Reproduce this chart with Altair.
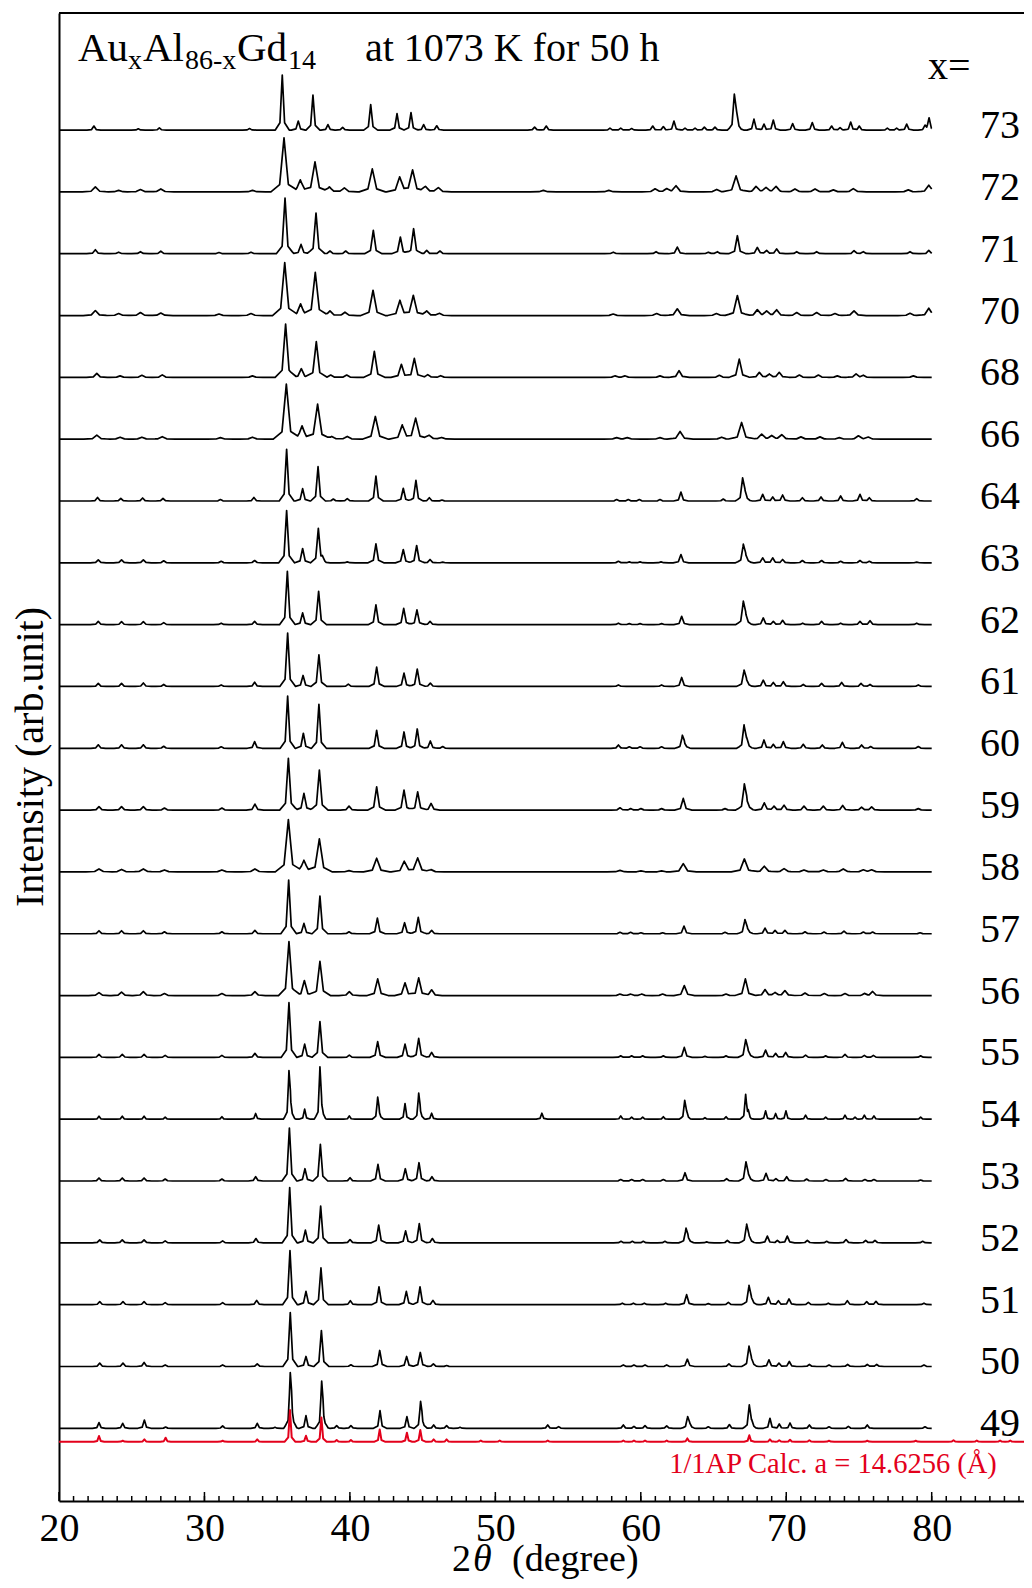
import altair as alt
import pandas as pd

# ---------------- data ----------------
SAMPLES = ["49", "50", "51", "52", "53", "54", "55", "56", "57", "58", "59",
           "60", "61", "62", "63", "64", "66", "68", "70", "71", "72", "73"]
# peak base half-width (degrees) of each pattern
PEAK_WIDTH = [0.15, 0.17, 0.17, 0.17, 0.17, 0.13, 0.18, 0.24, 0.18, 0.30, 0.20,
              0.17, 0.18, 0.18, 0.18, 0.17, 0.30, 0.24, 0.28, 0.20, 0.30, 0.16]
CALC_WIDTH = 0.12

# (2theta, peak height) for every pattern
P73 = [(22.4, 4), (25.45, 1.3), (26.9, 2.3), (33.1, 1.5), (35.35, 55), (36.45, 9), (37.46, 35), (38.49, 5.5),
       (39.5, 2.7), (41.43, 25.5), (43.24, 16.5), (44.2, 17.5), (45.07, 5.5), (45.97, 4.3), (52.7, 3), (53.5, 4),
       (57.88, 2), (58.62, 2), (59.37, 1.5), (60.82, 4), (61.55, 3.5), (62.28, 9), (63.04, 2), (63.73, 2),
       (64.37, 3), (65.1, 3), (66.43, 34), (66.59, 14), (67.78, 11), (68.47, 6), (69.11, 10), (70.44, 6.5),
       (71.79, 7.5), (73.12, 4), (73.7, 2.5), (74.43, 8), (75.02, 4), (76.95, 2), (77.59, 2), (78.28, 6),
       (79.54, 4), (79.82, 12)]
P72 = [(22.5, 5), (24.1, 1.5), (25.6, 2.3), (27.0, 3), (33.3, 1.5), (35.47, 54), (36.59, 12), (37.6, 30),
       (38.59, 5), (39.62, 4), (41.54, 23), (43.42, 15), (44.31, 22), (45.19, 5.5), (46.08, 4.3), (53.3, 1.5),
       (57.8, 1.5), (60.98, 3), (61.78, 3), (62.42, 6), (65.22, 2.5), (66.55, 16), (67.92, 5.3), (68.61, 4),
       (69.3, 5.3), (70.6, 3), (71.98, 3), (73.24, 2), (74.61, 3.3), (78.39, 2), (79.8, 6.7)]
P71 = [(22.5, 4), (24.1, 1.5), (25.6, 2), (27.0, 2.5), (31.0, 1.2), (33.2, 1.5), (35.54, 55.7), (36.64, 9.3),
       (37.67, 40.7), (38.63, 2.7), (39.71, 2.7), (41.61, 23.3), (43.47, 16.7), (44.38, 25), (45.28, 3.3),
       (46.19, 2.7), (58.11, 1.5), (61.05, 2), (62.51, 6.7), (64.64, 1.5), (65.26, 2), (66.64, 18), (68.01, 6.3),
       (68.65, 3.3), (69.34, 4.7), (70.72, 2), (72.09, 2), (74.66, 3), (75.3, 2), (78.51, 2), (79.8, 3.3)]
P70 = [(22.5, 5), (24.1, 2), (25.6, 3), (27.0, 2.5), (31.0, 1.5), (33.2, 2), (35.52, 53), (36.61, 11.7),
       (37.62, 43.3), (38.63, 4.7), (39.66, 3.3), (41.59, 25.3), (43.44, 15.3), (44.36, 20.3), (45.28, 4.7),
       (46.15, 2.3), (58.1, 1.5), (61.09, 2), (62.51, 6.7), (65.2, 2), (66.64, 20), (68.01, 5.7), (68.65, 4.3),
       (69.34, 5.7), (70.72, 3), (72.09, 3), (73.35, 2), (74.66, 4.7), (78.51, 2.3), (79.8, 7.3)]
P68 = [(22.6, 4), (24.2, 1.5), (25.7, 2), (27.1, 2.5), (33.3, 1.5), (35.58, 53.3), (36.66, 8.7), (37.69, 35.7),
       (38.68, 2.3), (39.78, 2.3), (41.68, 26), (43.54, 13), (44.43, 19), (45.35, 2.7), (46.24, 1.7), (58.23, 1.5),
       (58.91, 1.5), (61.32, 1.5), (62.63, 6.7), (65.4, 2), (66.77, 18.3), (68.15, 5), (68.84, 3.3), (69.52, 5),
       (70.9, 2.3), (72.21, 2.3), (73.51, 1.5), (74.8, 3.3), (75.3, 2), (78.74, 1.5)]
P66 = [(22.6, 4), (24.2, 2), (25.7, 2), (27.1, 2.5), (31.1, 1.5), (33.3, 2), (35.63, 55), (36.71, 13.3),
       (37.78, 35), (38.75, 2.7), (39.82, 2.7), (41.75, 22.7), (43.6, 14.3), (44.52, 21), (45.44, 4), (46.31, 1.7),
       (58.34, 1.5), (59.07, 1.5), (61.32, 1.5), (62.7, 7.7), (65.56, 2), (66.93, 16.7), (68.31, 5), (69.0, 3.3),
       (69.69, 4.3), (71.01, 2.3), (72.32, 2.3), (73.65, 1.5), (74.96, 3.3), (75.64, 2)]
P64 = [(22.65, 3.5), (24.25, 2.5), (25.75, 3), (27.15, 2.5), (31.1, 1.5), (33.4, 3.5), (35.65, 51.7),
       (36.75, 12.3), (37.81, 34.3), (38.86, 2), (39.82, 2.3), (41.79, 25), (43.67, 12.7), (44.54, 20.7),
       (45.46, 3.3), (46.33, 1), (58.34, 1.5), (59.14, 1.5), (59.9, 1.5), (61.32, 1.5), (62.76, 9), (65.67, 2),
       (67.0, 21.7), (67.16, 8), (68.38, 6.7), (69.07, 4), (69.75, 6), (71.11, 3.3), (72.39, 4), (73.74, 5),
       (75.07, 6.7), (75.71, 3.3), (78.97, 2.3)]
P63 = [(22.7, 3), (24.3, 3), (25.8, 3), (27.2, 2), (31.15, 1.5), (33.45, 2.3), (35.65, 52.3), (36.75, 14.3),
       (37.83, 34), (38.1, 4), (39.82, 1), (41.79, 19), (43.67, 13.3), (44.59, 17.3), (45.51, 3.3), (46.38, 0.7),
       (58.46, 1.5), (59.21, 1), (59.95, 1), (61.39, 1), (62.76, 8.3), (67.05, 17.3), (67.21, 6), (68.38, 5),
       (69.07, 5), (69.75, 3.3), (71.11, 2.3), (72.43, 2.3), (73.74, 1.5), (75.07, 2.3), (75.71, 1.5), (78.97, 0.7)]
P62 = [(22.7, 3.3), (24.3, 3), (25.8, 3), (27.2, 2), (31.15, 1.5), (33.45, 3.3), (35.7, 53.3), (36.75, 11.7),
       (37.85, 33.3), (41.79, 19.7), (43.7, 16.3), (44.61, 14.7), (45.51, 3.3), (58.46, 1.5), (59.21, 1),
       (59.95, 1), (61.43, 1), (62.81, 8.3), (67.05, 21.7), (67.21, 8), (68.42, 6.7), (69.11, 3.3), (69.75, 4.3),
       (71.13, 1.5), (72.43, 3.3), (73.74, 1.5), (75.07, 3.3), (75.76, 4), (78.97, 1.5)]
P61 = [(22.7, 3), (24.3, 3), (25.8, 3.5), (27.2, 2), (31.15, 1.5), (33.45, 4.3), (35.72, 53.3), (36.78, 11),
       (37.87, 31.7), (39.89, 2.3), (41.84, 19.3), (43.72, 13.3), (44.63, 17.3), (45.53, 3.3), (58.46, 1.5),
       (61.43, 1.5), (62.81, 9), (67.1, 15.3), (67.26, 5), (68.42, 6.3), (69.11, 4), (69.8, 4.7), (71.17, 2),
       (72.43, 3), (73.81, 4), (75.14, 3), (75.76, 2), (79.08, 1.5)]
P60 = [(22.7, 3.5), (24.3, 3.5), (25.8, 3.5), (27.2, 2), (31.15, 1.5), (33.45, 6.7), (35.72, 52.3), (36.8, 15),
       (37.87, 44), (41.84, 18), (43.72, 16.3), (44.63, 19.3), (45.53, 7.3), (46.38, 1.7), (58.46, 3.3),
       (59.21, 1.5), (59.95, 1.5), (61.43, 1.5), (62.86, 11.7), (62.99, 4), (67.1, 22.3), (67.28, 8), (68.47, 8.3),
       (69.11, 4), (69.8, 6.7), (71.17, 4), (72.48, 3.3), (73.86, 6), (75.18, 3.3), (75.8, 1.7), (79.08, 1.7)]
P59 = [(22.75, 3.5), (24.3, 3.5), (25.8, 3.5), (27.25, 2), (31.2, 2), (33.47, 6), (35.77, 51.7), (36.84, 16.7),
       (37.9, 40), (39.94, 4), (41.84, 23.3), (43.72, 20), (44.66, 18.3), (45.58, 6.7), (58.57, 2.3), (59.3, 1.5),
       (60.01, 1.5), (61.43, 1.5), (62.92, 11.7), (65.79, 1.5), (67.12, 24), (67.28, 7), (68.49, 7.3), (69.16, 4),
       (69.85, 5), (71.22, 4), (72.55, 4), (73.88, 4.7), (75.18, 3), (75.87, 3.3), (79.08, 1.5)]
P58 = [(22.75, 3), (24.3, 2.5), (25.8, 3), (27.25, 2), (31.2, 2), (33.47, 3), (35.77, 52.3), (36.84, 11.7),
       (37.9, 33), (39.94, 1.3), (41.84, 13.7), (43.74, 10.7), (44.66, 14), (45.58, 2.3), (58.57, 1.5), (60.01, 1),
       (61.43, 1), (62.92, 8.3), (67.12, 13), (68.49, 5.7), (69.85, 3.3), (71.22, 2), (72.55, 2), (73.92, 3),
       (75.3, 2), (75.87, 2)]
P57 = [(22.75, 3), (24.3, 3), (25.8, 3), (27.25, 2), (31.2, 2), (33.47, 3.3), (35.79, 53.7), (36.84, 10.3),
       (37.94, 37.7), (39.94, 2), (41.89, 15.7), (43.76, 11), (44.7, 16.3), (45.62, 3.3), (58.57, 1.5), (59.3, 1.5),
       (60.01, 1), (61.5, 1), (62.97, 7.7), (65.79, 1.5), (67.16, 13.3), (67.32, 4), (68.54, 5.7), (69.23, 3.3),
       (69.91, 3.3), (71.29, 2), (72.6, 1.7), (73.97, 2.7), (75.3, 1.7), (75.94, 1.7), (79.2, 1)]
P56 = [(22.75, 3), (24.3, 3.5), (25.8, 4), (27.25, 2), (31.2, 2), (33.47, 4), (35.81, 54), (36.87, 15),
       (37.94, 34.3), (39.96, 4), (41.91, 16.7), (43.79, 12.7), (44.73, 17.7), (45.62, 5.7), (58.57, 1.5),
       (59.3, 1.5), (60.06, 1.5), (61.5, 1.5), (62.99, 10), (65.86, 1.5), (67.19, 16.7), (68.54, 6), (69.23, 3),
       (69.91, 5), (71.29, 2.5), (72.62, 2), (74.04, 2), (75.37, 2), (75.94, 4)]
P55 = [(22.75, 3), (24.35, 3), (25.85, 3), (27.3, 2), (31.2, 2), (33.47, 4), (35.81, 54.7), (36.89, 13.3),
       (37.94, 35.7), (39.96, 2.3), (41.91, 15.7), (43.79, 13.3), (44.73, 19), (45.62, 5), (58.62, 1.5),
       (59.37, 1.5), (60.13, 1.5), (61.55, 1.5), (62.99, 10), (64.41, 1), (65.86, 1.5), (67.21, 16.7), (67.37, 5),
       (68.58, 7.3), (69.27, 4), (69.96, 5), (71.33, 2.3), (72.71, 1.5), (74.04, 3), (75.37, 2), (75.99, 2),
       (79.24, 1.5)]
P54 = [(22.75, 3), (24.35, 3), (25.85, 3), (27.3, 2), (31.2, 2.5), (33.52, 5.7), (35.81, 44), (35.91, 14),
       (36.89, 10), (37.94, 50), (38.05, 9), (39.96, 3.3), (41.91, 20), (42.0, 5), (43.79, 15.7), (44.73, 24),
       (44.83, 6), (45.62, 6), (53.2, 6), (58.62, 3.3), (59.37, 2), (60.13, 2), (61.55, 2.5), (63.02, 18),
       (63.15, 6), (64.41, 1.5), (65.86, 2.5), (67.21, 24), (67.39, 7), (68.58, 8.3), (69.27, 5.7), (69.98, 8.3),
       (71.33, 4), (72.71, 2), (74.04, 4), (74.73, 2), (75.37, 4), (76.03, 3.3), (79.24, 2)]
P53 = [(22.75, 3), (24.35, 3), (25.85, 3), (27.3, 2), (31.2, 2), (33.52, 4.3), (35.84, 53), (36.91, 12.3),
       (37.97, 36.7), (40.01, 3.3), (41.93, 16.7), (43.81, 12.3), (44.75, 18.3), (45.64, 4.3), (58.62, 1.5),
       (59.37, 1.5), (60.13, 1.5), (61.55, 1.5), (63.04, 8.3), (65.9, 2.3), (67.23, 18.3), (67.39, 5),
       (68.61, 7.7), (69.29, 2.5), (70.03, 4.3), (71.4, 2), (72.73, 1.5), (74.08, 2.7), (75.41, 1.5),
       (76.03, 1.5), (79.24, 1)]
P52 = [(22.8, 3), (24.35, 3), (25.85, 3), (27.3, 2), (31.25, 2), (33.54, 4.3), (35.86, 55.3), (36.94, 12.7),
       (37.99, 36.7), (40.01, 3.3), (41.98, 17.7), (43.83, 12), (44.77, 19.3), (45.67, 4.3), (58.64, 1.5),
       (59.42, 1.5), (60.17, 1.5), (61.66, 1.5), (63.11, 13.3), (63.24, 4), (64.53, 1), (65.95, 2.5),
       (67.28, 17.7), (67.44, 5), (68.7, 6.7), (69.39, 2.5), (70.07, 6.7), (71.45, 2.5), (72.78, 1.5),
       (74.11, 3.3), (75.46, 2.5), (76.1, 2.5), (79.38, 1.5)]
P51 = [(22.8, 3), (24.4, 3), (25.85, 3), (27.3, 2), (31.25, 2), (33.59, 4.3), (35.88, 54), (36.98, 13.3),
       (38.01, 36.7), (40.03, 4), (42.0, 17.7), (43.88, 13.3), (44.82, 17.7), (45.71, 4.3), (58.73, 1.5),
       (59.49, 1.5), (60.24, 1.5), (61.71, 1.5), (63.15, 10), (64.64, 1), (66.02, 2.3), (67.44, 18.3), (67.6, 5),
       (68.77, 7.3), (69.46, 4), (70.19, 5.7), (71.52, 2.3), (72.89, 1.5), (74.2, 4), (75.53, 3), (76.17, 3.3),
       (79.47, 1.5)]
P50 = [(22.8, 3.3), (24.4, 3.3), (25.85, 4), (27.3, 1.5), (31.25, 1.5), (33.63, 2.7), (35.9, 54), (36.98, 10),
       (38.04, 36), (40.07, 1.7), (42.05, 16), (43.9, 10), (44.84, 14), (45.74, 2.7), (46.65, 1), (58.8, 1.5),
       (59.53, 1.5), (60.29, 1.5), (61.78, 1.5), (63.2, 7.3), (66.06, 2.5), (67.44, 19.3), (67.6, 6),
       (68.81, 6.7), (69.5, 3.3), (70.21, 5), (71.59, 2), (72.94, 1.5), (74.22, 2), (75.57, 2), (76.22, 2),
       (79.47, 1.5)]
P49 = [(22.75, 5.7), (24.38, 5), (25.87, 8.3), (27.33, 1.3), (31.25, 2.3), (33.63, 5), (34.85, 1), (35.9, 49),
       (35.99, 14), (36.98, 12.7), (38.06, 43), (38.15, 9), (39.09, 2.7), (40.07, 2.7), (42.07, 17.7),
       (43.92, 11.7), (44.86, 24), (44.95, 6), (45.76, 3.3), (46.65, 2.7), (47.57, 1), (53.6, 3.3), (54.35, 1.7),
       (58.8, 3.3), (59.53, 2), (60.29, 2.7), (61.78, 2.5), (63.22, 11), (63.36, 4), (64.64, 1.5), (66.09, 3.7),
       (67.46, 22.7), (67.62, 6), (68.88, 10), (69.52, 4.3), (70.26, 5.3), (71.59, 3.3), (72.94, 1.5),
       (74.27, 2), (75.57, 3.3), (79.54, 1.5)]
PCALC = [(22.75, 5.7), (24.38, 1), (25.87, 2.3), (27.33, 4), (31.25, 1), (33.63, 2.3), (35.88, 31.7), (36.98, 6),
         (38.04, 24.3), (39.09, 1.7), (40.07, 1.7), (42.05, 12.3), (43.92, 9), (44.84, 11.7), (45.76, 2.3),
         (46.65, 2.3), (49.0, 1.2), (50.3, 1.2), (53.6, 1.2), (58.8, 1.2), (59.53, 1.2), (60.29, 1.2), (61.78, 1.2),
         (63.2, 3.3), (67.46, 6.5), (68.88, 2.3), (69.52, 1.5), (70.26, 2), (71.59, 1.5), (72.94, 1), (75.57, 1),
         (78.9, 1), (81.5, 1.5), (83.1, 1.2), (84.7, 1.2), (85.4, 1.2)]

PATTERNS = [P49, P50, P51, P52, P53, P54, P55, P56, P57, P58, P59,
            P60, P61, P62, P63, P64, P66, P68, P70, P71, P72, P73]

X_TICK_LABELS = [20, 30, 40, 50, 60, 70, 80]
TITLE_FORMULA = [("Au", False), ("x", True), ("Al", False), ("86-x", True), ("Gd", False), ("14", True)]
TITLE_COND = "at 1073 K for 50 h"
CALC_LABEL = "1/1AP Calc. a = 14.6256 (\u00c5)"

# ---------------- layout ----------------
W, H = 965, 1488
X_MIN, X_MAX = 20.0, 20.0 + W / 14.545
BASE0, STEP, CALC_BASE = 72.7, 61.82, 59.3
FONT = "Liberation Serif"


def profile(peaks, w, lo, hi):
    """piecewise-linear peak outline through the read peak apexes"""
    bps = {lo, hi}
    for p, _ in peaks:
        for d in (-3 * w, -w, 0.0, w, 3 * w):
            if lo <= p + d <= hi:
                bps.add(round(p + d, 5))
    xs = sorted(bps)
    ys = []
    for x in xs:
        s = 0.0
        for p, h in peaks:
            s += 0.8 * h * max(0.0, 1 - abs(x - p) / w) + 0.2 * h * max(0.0, 1 - abs(x - p) / (3 * w))
        ys.append(s)
    return xs, ys


rows = []
for i, (name, peaks) in enumerate(zip(SAMPLES, PATTERNS)):
    xs, ys = profile(peaks, PEAK_WIDTH[i], 20.0, 80.0)
    off = BASE0 + i * STEP
    rows += [{"s": name, "x": x, "y": off + y} for x, y in zip(xs, ys)]
df = pd.DataFrame(rows)

cx, cy = profile(PCALC, CALC_WIDTH, X_MIN, X_MAX)
df_calc = pd.DataFrame({"x": cx, "y": [CALC_BASE + v for v in cy]})

df_lab = pd.DataFrame({"lab": SAMPLES, "y": [BASE0 + i * STEP + 4 for i in range(len(SAMPLES))]})

xs_ = alt.Scale(domain=[X_MIN, X_MAX], nice=False, zero=False)
ys_ = alt.Scale(domain=[0, H], nice=False, zero=False)

x_axis = alt.Axis(values=X_TICK_LABELS, ticks=False, grid=False, title=None, labelFont=FONT,
                  labelFontSize=40, labelColor="black", labelPadding=7, labelFlush=False,
                  domainColor="black", domainWidth=2)
y_axis = alt.Axis(labels=False, ticks=False, grid=False, title=None, domainColor="black", domainWidth=2)

lines = alt.Chart(df).mark_line(color="black", strokeWidth=1.7, strokeJoin="round").encode(
    x=alt.X("x:Q", scale=xs_, axis=x_axis),
    y=alt.Y("y:Q", scale=ys_, axis=y_axis),
    detail="s:N",
)
calc = alt.Chart(df_calc).mark_line(color="#e3001b", strokeWidth=2, strokeJoin="round").encode(
    x=alt.X("x:Q", scale=xs_), y=alt.Y("y:Q", scale=ys_))

labels = alt.Chart(df_lab).mark_text(font=FONT, fontSize=40, align="left", baseline="middle",
                                     color="black").encode(
    x=alt.value(921), y=alt.Y("y:Q", scale=ys_), text="lab:N")

minor = alt.Chart(pd.DataFrame({"x": list(range(21, 87))})).mark_rule(color="black", strokeWidth=1.5).encode(
    x=alt.X("x:Q", scale=xs_), y=alt.value(H), y2=alt.value(H - 5))
major = alt.Chart(pd.DataFrame({"x": X_TICK_LABELS})).mark_rule(color="black", strokeWidth=1.5).encode(
    x=alt.X("x:Q", scale=xs_), y=alt.value(H), y2=alt.value(H - 9))
top = alt.Chart(pd.DataFrame({"a": [0]})).mark_rule(color="black", strokeWidth=2).encode(
    x=alt.value(0), x2=alt.value(W), y=alt.value(0))


def txt(s, x, y, size=40, align="left", italic=False, color="black", angle=0, baseline="alphabetic"):
    kw = dict(font=FONT, fontSize=size, align=align, baseline=baseline, color=color)
    if italic:
        kw["fontStyle"] = "italic"
    if angle:
        kw["angle"] = angle
    return alt.Chart(pd.DataFrame({"t": [s]})).mark_text(**kw).encode(
        x=alt.value(x), y=alt.value(y), text="t:N")


texts = []
# formula title with subscripts
pos = [(19, 48, 41), (69, 56, 28), (84, 48, 41), (126, 56, 28), (178, 48, 41), (229, 56, 28)]
for (s, sub), (px, py, fs) in zip(TITLE_FORMULA, pos):
    texts.append(txt(s, px, py, size=fs))
texts.append(txt(TITLE_COND, 306, 48))
texts.append(txt("x=", 869, 66))
texts.append(txt(CALC_LABEL, 774, 1451, size=28.5, align="center", color="#e3001b", baseline="middle"))
texts.append(txt("Intensity (arb.unit)", -28, 744, angle=270, align="center", baseline="middle"))
texts.append(txt("2", 393, 1558, size=38))
texts.append(txt("\u03b8", 414, 1558, size=38, italic=True))
texts.append(txt("(degree)", 453, 1558, size=38))

chart = alt.layer(lines, calc, labels, minor, major, top, *texts).properties(
    width=W, height=H,
    padding={"left": 51, "top": 5, "right": 0, "bottom": 79},
    autosize=alt.AutoSizeParams(type="none"),
).configure_view(stroke=None)

chart.save("out.html", embed_options={"renderer": "svg", "actions": False})
